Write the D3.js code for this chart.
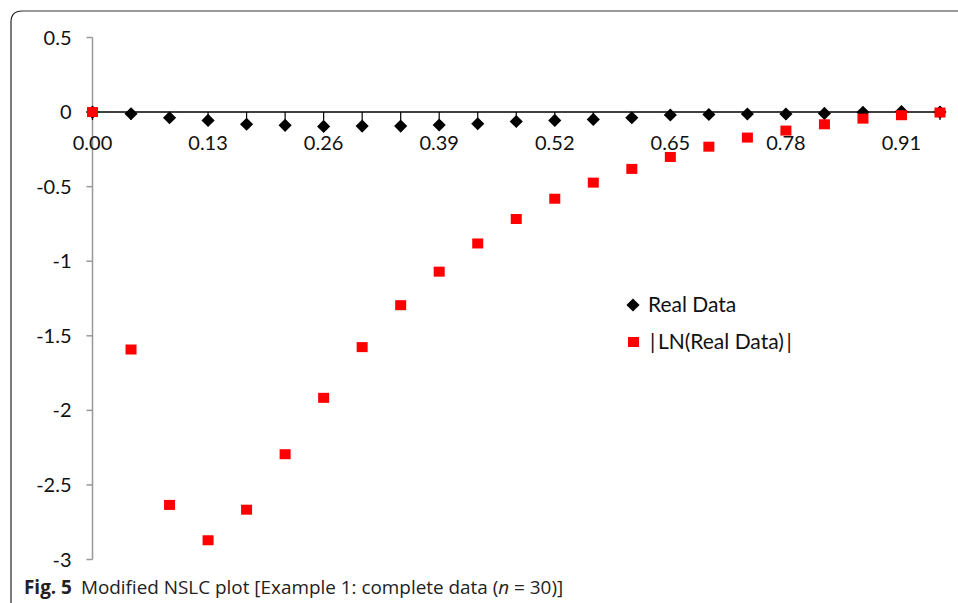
<!DOCTYPE html>
<html>
<head>
<meta charset="utf-8">
<script src="https://cdn.jsdelivr.net/npm/d3@7"></script>
<style>
  body { margin: 0; background: #fff; }
  text { font-family: Lato, "Open Sans", sans-serif; }
</style>
</head>
<body>
<script>
var width = 958,
  height = 603

// x categories: 23 points, step 0.13 / 3
var xValues = d3.range(23).map(function (i) { return i * 0.13 / 3 })
var xTickLabels = ['0.00', '0.13', '0.26', '0.39', '0.52', '0.65', '0.78', '0.91']
var yTicks = [0.5, 0, -0.5, -1, -1.5, -2, -2.5, -3]

var realData = [0, -0.011, -0.038, -0.056, -0.082, -0.089, -0.096, -0.094, -0.094, -0.087, -0.078,
  -0.063, -0.056, -0.049, -0.038, -0.02, -0.016, -0.013, -0.013, -0.009, -0.002, 0.003, 0]
var lnData = [0, -1.592, -2.634, -2.871, -2.666, -2.294, -1.916, -1.576, -1.295, -1.070, -0.881,
  -0.717, -0.581, -0.473, -0.381, -0.301, -0.232, -0.171, -0.124, -0.082, -0.044, -0.021, -0.003]

var seriesNames = ['Real Data', '|\u2009LN(Real Data)\u2009|']

var x = d3.scaleLinear()
  .domain([0, xValues[xValues.length - 1]])
  .range([92.5, 940])

var y = d3.scaleLinear()
  .domain([0.5, -3])
  .range([37.5, 559.5])

var svg = d3.select('body').append('svg')
  .attr('width', width)
  .attr('height', height)

// frame with rounded top-left corner
svg.append('path')
  .attr('d', 'M11,' + height + ' L11,22 Q11,11 22,11')
  .attr('fill', 'none')
  .attr('stroke', '#222')
  .attr('stroke-width', 1.2)
svg.append('path')
  .attr('d', 'M22,11 L' + width + ',11')
  .attr('fill', 'none')
  .attr('stroke', '#777')
  .attr('stroke-width', 1.6)

// y axis
var yAxis = svg.append('g')
  .attr('transform', 'translate(' + x(0) + ',0)')
yAxis.append('line')
  .attr('y1', y(0.5)).attr('y2', y(-3))
  .attr('stroke', '#999').attr('stroke-width', 1.5)
yAxis.selectAll('.ytick')
  .data(yTicks)
  .enter().append('line')
  .attr('x1', -6).attr('x2', 0)
  .attr('y1', function (d) { return y(d) })
  .attr('y2', function (d) { return y(d) })
  .attr('stroke', '#999').attr('stroke-width', 1.5)
yAxis.selectAll('.ylabel')
  .data(yTicks)
  .enter().append('text')
  .attr('x', -21)
  .attr('y', function (d) { return y(d) })
  .attr('dy', '0.35em')
  .attr('text-anchor', 'end')
  .style('font-size', '20px')
  .style('fill', '#111')
  .text(function (d) { return d })

// x axis at y = 0
var xAxis = svg.append('g')
  .attr('transform', 'translate(0,' + y(0) + ')')
xAxis.append('line')
  .attr('x1', x(0)).attr('x2', x(xValues[xValues.length - 1]))
  .attr('stroke', '#000').attr('stroke-width', 1.5)
xAxis.selectAll('.xtick')
  .data(xValues)
  .enter().append('line')
  .attr('x1', function (d) { return x(d) })
  .attr('x2', function (d) { return x(d) })
  .attr('y1', 0).attr('y2', 8)
  .attr('stroke', '#000').attr('stroke-width', 1.2)
xAxis.selectAll('.xlabel')
  .data(xTickLabels)
  .enter().append('text')
  .attr('x', function (d, i) { return x(xValues[i * 3]) })
  .attr('y', 31)
  .attr('dy', '0.35em')
  .attr('text-anchor', 'middle')
  .style('font-size', '20px')
  .style('fill', '#111')
  .text(function (d) { return d })

var diamond = d3.symbol().type(d3.symbolDiamond2).size(110)

svg.append('g').selectAll('path')
  .data(realData)
  .enter().append('path')
  .attr('d', diamond)
  .attr('transform', function (d, i) { return 'translate(' + x(xValues[i]) + ',' + y(d) + ')' })
  .attr('fill', '#000')

svg.append('g').selectAll('rect')
  .data(lnData)
  .enter().append('rect')
  .attr('x', function (d, i) { return x(xValues[i]) - 5.5 })
  .attr('y', function (d) { return y(d) - 5 })
  .attr('width', 11)
  .attr('height', 10)
  .attr('fill', '#f00')

// legend
var legend = svg.append('g')
legend.append('path')
  .attr('d', diamond)
  .attr('transform', 'translate(633,305)')
  .attr('fill', '#000')
legend.append('rect')
  .attr('x', 628).attr('y', 337)
  .attr('width', 11).attr('height', 10)
  .attr('fill', '#f00')
legend.selectAll('.ltext')
  .data(seriesNames)
  .enter().append('text')
  .attr('x', function (d, i) { return i === 0 ? 648 : 650 })
  .attr('y', function (d, i) { return 305 + i * 37 })
  .attr('dy', '0.35em')
  .style('font-size', '21px')
  .style('fill', '#111')
  .text(function (d) { return d })

// caption
var caption = svg.append('text')
  .attr('x', 24)
  .attr('y', 594)
  .style('font-family', '"Open Sans", sans-serif')
  .style('font-size', '18.9px')
  .style('fill', '#222')
caption.append('tspan').style('font-weight', 'bold').text('Fig. 5')
caption.append('tspan').attr('dx', 9).text('Modified NSLC plot [Example 1: complete data (')
caption.append('tspan').style('font-style', 'italic').text('n')
caption.append('tspan').text(' = 30)]')
</script>
</body>
</html>
